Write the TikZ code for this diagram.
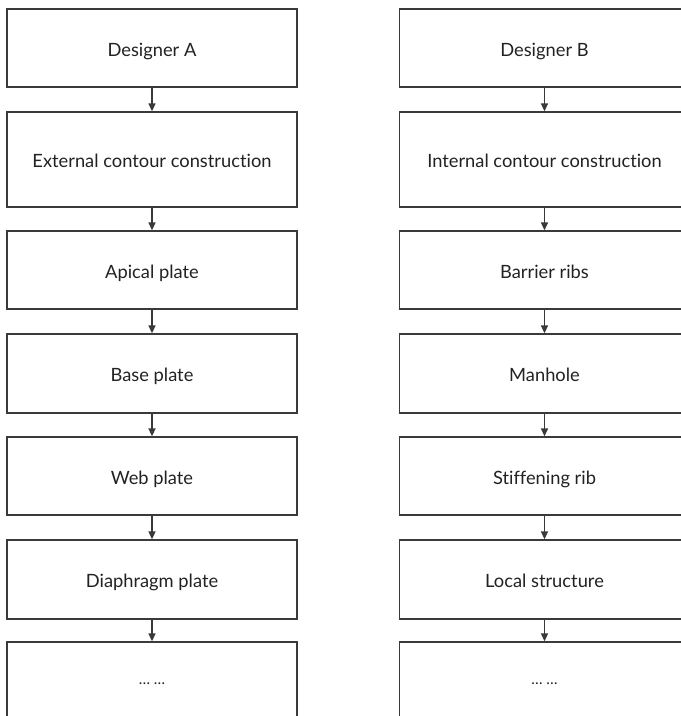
\documentclass[tikz,border=0pt]{standalone}
\usepackage{fontspec}
\setmainfont[Ligatures={NoCommon}]{Lato}
\usetikzlibrary{arrows.meta}
\definecolor{edge}{HTML}{3A3A3A}
\definecolor{ink}{HTML}{222222}
\begin{document}
\begin{tikzpicture}[x=1pt,y=-1pt,
  stagebox/.style={draw=edge, line width=1.3pt, fill=white, inner sep=0pt,
    minimum width=290pt, text=ink, text height=16pt, text depth=0pt,
    font=\fontsize{18.3}{21}\selectfont},
  etcbox/.style={stagebox, text height=6pt, font=\fontsize{15}{17}\selectfont},
  flow/.style={draw=edge, line width=1.3pt,
    -{Triangle[width=7pt,length=8pt]}}]
  \clip (0,0) rectangle (681,716);
  \fill[white] (0,0) rectangle (681,716);
  % left column
  \node[stagebox, minimum height=78pt] (a1) at (152,48) {Designer A};
  \node[stagebox, minimum height=95pt] (a2) at (152,159.5) {External contour construction};
  \node[stagebox, minimum height=78pt] (a3) at (152,270) {Apical plate};
  \node[stagebox, minimum height=79pt] (a4) at (152,373.5) {Base plate};
  \node[stagebox, minimum height=78pt] (a5) at (152,476) {Web plate};
  \node[stagebox, minimum height=79pt] (a6) at (152,579.5) {Diaphragm plate};
  \node[etcbox, minimum height=79pt] (a7) at (152,681.5) {… …};
  % right column
  \node[stagebox, minimum height=78pt] (b1) at (544.5,48) {Designer B};
  \node[stagebox, minimum height=95pt] (b2) at (544.5,159.5) {Internal contour construction};
  \node[stagebox, minimum height=78pt] (b3) at (544.5,270) {Barrier ribs};
  \node[stagebox, minimum height=79pt] (b4) at (544.5,373.5) {Manhole};
  \node[stagebox, minimum height=78pt] (b5) at (544.5,476) {Stiffening rib};
  \node[stagebox, minimum height=79pt] (b6) at (544.5,579.5) {Local structure};
  \node[etcbox, minimum height=79pt] (b7) at (544.5,681.5) {… …};
  % connectors
  \foreach \c in {a,b}{
    \foreach \i/\j in {1/2,2/3,3/4,4/5,5/6,6/7}{
      \draw[flow] (\c\i.south) -- (\c\j.north);
    }
  }
\end{tikzpicture}
\end{document}
